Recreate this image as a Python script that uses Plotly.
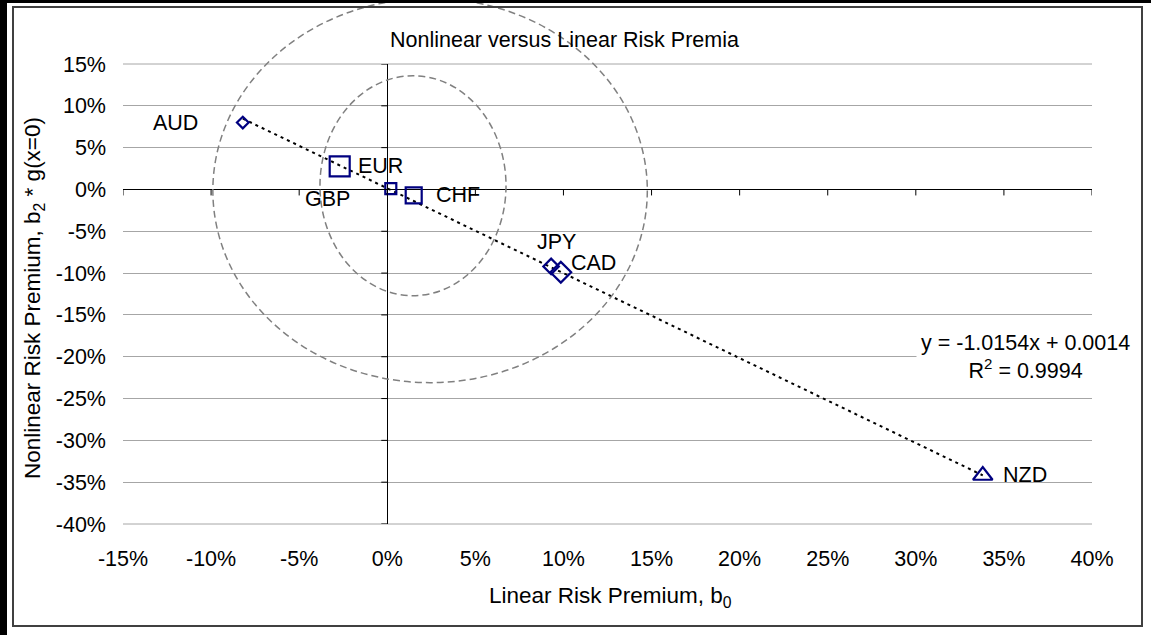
import plotly.graph_objects as go

# ---------------- data ----------------
currencies = ["AUD", "EUR", "GBP", "CHF", "JPY", "CAD", "NZD"]
linear_premium = [-0.082, -0.027, 0.002, 0.015, 0.093, 0.0985, 0.338]      # b0
nonlinear_premium = [0.080, 0.0275, 0.001, -0.007, -0.092, -0.099, -0.342]  # b2 * g(x=0)
trend_slope = -1.0154
trend_intercept = 0.0014
trend_r2 = 0.9994
x_tick_values = [-0.15, -0.10, -0.05, 0.0, 0.05, 0.10, 0.15, 0.20, 0.25, 0.30, 0.35, 0.40]
y_tick_values = [-0.40, -0.35, -0.30, -0.25, -0.20, -0.15, -0.10, -0.05, 0.0, 0.05, 0.10, 0.15]

# ---------------- styles ----------------
marker_symbols = ["diamond-open", "square-open", "square-open", "square-open",
                  "diamond-open", "diamond-open", "triangle-up-open"]
marker_sizes = [9, 20, 11, 16, 12, 16, 17]
# label placement: (xanchor, xshift, yshift) in pixels
label_place = [("right", -43, 0), ("left", 16, 0), ("right", -39, -10), ("left", 20, 0),
               ("center", 5, 24), ("left", 8, 9), ("left", 18, 0)]

FONT = "Liberation Sans, Arial, sans-serif"
FS = 21.5
FS_AXIS_TITLE = 22.5
NAVY = "#000080"
GRID = "#a6a6a6"

W, H = 1151, 635
L, R, T, B = 123, 1092, 64, 524
X_RANGE = [x_tick_values[0], x_tick_values[-1]]
Y_RANGE = [y_tick_values[0], y_tick_values[-1]]


def pct(v):
    return f"{round(v * 100):d}%"


def px_x(p):
    return (p - L) / (R - L)


def px_y(p):
    return (B - p) / (B - T)


def dx(v):
    return (v - X_RANGE[0]) / (X_RANGE[1] - X_RANGE[0])


def dy(v):
    return (v - Y_RANGE[0]) / (Y_RANGE[1] - Y_RANGE[0])


fig = go.Figure()

# trendline
x_lo, x_hi = min(linear_premium), max(linear_premium)
fig.add_trace(go.Scatter(
    x=[x_lo, x_hi],
    y=[trend_slope * x_lo + trend_intercept, trend_slope * x_hi + trend_intercept],
    mode="lines", line=dict(color="black", width=2, dash="3px,4px"),
    hoverinfo="skip", showlegend=False))

# points
fig.add_trace(go.Scatter(
    x=linear_premium, y=nonlinear_premium, mode="markers",
    marker=dict(symbol=marker_symbols, size=marker_sizes, color=NAVY, opacity=1,
                line=dict(color=NAVY, width=2.2)),
    text=currencies, showlegend=False))

annotations = []
for name, xv, yv, (anc, xs, ys) in zip(currencies, linear_premium, nonlinear_premium, label_place):
    annotations.append(dict(x=xv, y=yv, xref="x", yref="y", text=name, showarrow=False,
                            xanchor=anc, yanchor="middle", xshift=xs, yshift=ys,
                            font=dict(family=FONT, size=FS, color="black")))

# title
annotations.append(dict(x=px_x(564), y=px_y(40), xref="paper", yref="paper",
                        text="Nonlinear versus Linear Risk Premia", showarrow=False,
                        xanchor="center", yanchor="middle",
                        font=dict(family=FONT, size=FS, color="black")))
# axis titles
annotations.append(dict(x=px_x(610), y=px_y(597), xref="paper", yref="paper",
                        text="Linear Risk Premium, b<sub>0</sub>", showarrow=False,
                        xanchor="center", yanchor="middle",
                        font=dict(family=FONT, size=FS_AXIS_TITLE, color="black")))
annotations.append(dict(x=px_x(34), y=px_y(298), xref="paper", yref="paper",
                        text="Nonlinear Risk Premium, b<sub>2</sub> * g(x=0)", showarrow=False,
                        textangle=-90, xanchor="center", yanchor="middle",
                        font=dict(family=FONT, size=FS_AXIS_TITLE, color="black")))
# trendline equation
sign = "+" if trend_intercept >= 0 else "-"
eq_text = (f"y = {trend_slope:.4f}x {sign} {abs(trend_intercept):.4f}<br>"
           f"R<sup>2</sup> = {trend_r2:.4f}")
annotations.append(dict(x=px_x(1025), y=px_y(357), xref="paper", yref="paper",
                        text=eq_text, showarrow=False, align="center",
                        xanchor="center", yanchor="middle", bgcolor="white", borderpad=4,
                        font=dict(family=FONT, size=FS, color="black")))

shapes = []
# gridlines at the two ends of the value axis (plotly omits them at the range edges)
for yv in (Y_RANGE[0], Y_RANGE[1]):
    shapes.append(dict(type="line", xref="paper", yref="paper", layer="below",
                       x0=0, x1=1, y0=dy(yv), y1=dy(yv), line=dict(color=GRID, width=1)))
# tick marks on the axes crossing at zero
for xv in x_tick_values:
    shapes.append(dict(type="line", xref="x", yref="y", ysizemode="pixel", yanchor=0,
                       x0=xv, x1=xv, y0=0, y1=-6, line=dict(color="black", width=1)))
for yv in y_tick_values:
    shapes.append(dict(type="line", xref="x", yref="y", xsizemode="pixel", xanchor=0,
                       x0=-6, x1=0, y0=yv, y1=yv, line=dict(color="black", width=1)))

# dashed circles (drawn ovals)
big_circle = dict(x0=-0.099, x1=0.1476, y0=-0.231, y1=0.2285)
small_circle = dict(x0=-0.0382, x1=0.0674, y0=-0.127, y1=0.136)
for c in (big_circle, small_circle):
    shapes.append(dict(type="circle", xref="paper", yref="paper",
                       x0=dx(c["x0"]), x1=dx(c["x1"]), y0=dy(c["y0"]), y1=dy(c["y1"]),
                       line=dict(color="#808080", width=1.5, dash="7px,4px")))

# chart frame
shapes.append(dict(type="rect", xref="paper", yref="paper",
                   x0=px_x(13), x1=px_x(1142), y0=px_y(626), y1=px_y(7),
                   line=dict(color="#404040", width=2)))
shapes.append(dict(type="rect", xref="paper", yref="paper",
                   x0=px_x(0), x1=px_x(7), y0=px_y(635), y1=px_y(0),
                   fillcolor="black", line=dict(width=0)))
shapes.append(dict(type="rect", xref="paper", yref="paper",
                   x0=px_x(0), x1=px_x(1151), y0=px_y(3), y1=px_y(0),
                   fillcolor="black", line=dict(width=0)))

fig.update_layout(
    width=W, height=H,
    margin=dict(l=L, r=W - R, t=T, b=H - B, pad=0),
    paper_bgcolor="white", plot_bgcolor="white",
    font=dict(family=FONT, size=FS, color="black"),
    xaxis=dict(range=X_RANGE, tickvals=x_tick_values, ticktext=[pct(v) for v in x_tick_values],
               showgrid=False, zeroline=True, zerolinecolor="black", zerolinewidth=1,
               showline=False, ticks="", ticklabelstandoff=19,
               tickfont=dict(family=FONT, size=FS, color="black")),
    yaxis=dict(range=Y_RANGE, tickvals=y_tick_values, ticktext=[pct(v) for v in y_tick_values],
               showgrid=True, gridcolor=GRID, gridwidth=1,
               zeroline=True, zerolinecolor="black", zerolinewidth=1,
               showline=False, ticks="", ticklabelstandoff=16,
               tickfont=dict(family=FONT, size=FS, color="black")),
    annotations=annotations, shapes=shapes,
)

fig.write_html("out.html", config={"displayModeBar": False},
               post_script="document.body.style.margin='0';document.body.style.overflow='hidden';")
